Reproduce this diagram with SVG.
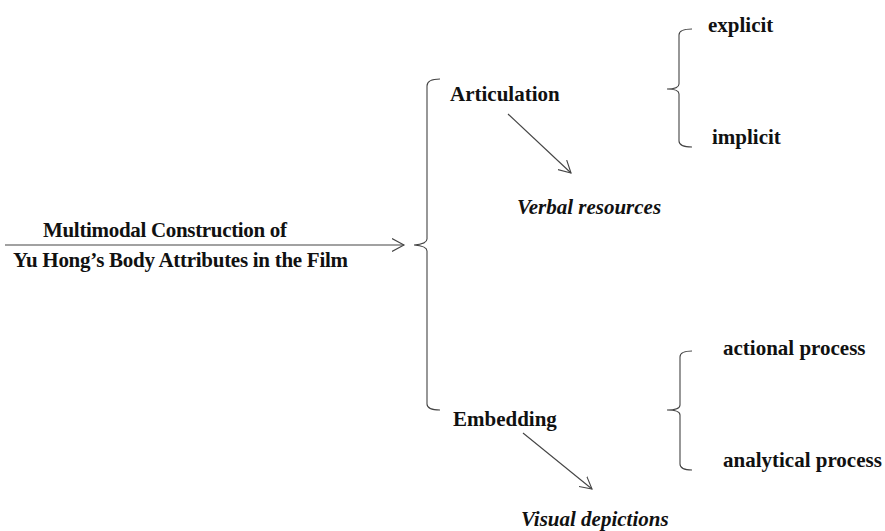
<svg xmlns="http://www.w3.org/2000/svg" width="885" height="531" viewBox="0 0 885 531">
<style>
text{font-family:"Liberation Serif","Times New Roman",serif;font-weight:bold;font-size:21px;fill:#111}
.it{font-style:italic}
.ln{fill:none;stroke:#444;stroke-width:1.1}
</style>
<defs>
<marker id="open" markerWidth="14" markerHeight="14" refX="12" refY="7" orient="auto" markerUnits="userSpaceOnUse">
<path d="M0,0.5 L12,7 L0,13.5" fill="none" stroke="#444" stroke-width="1.1"/>
</marker>
</defs>
<rect width="885" height="531" fill="#fff"/>
<g id="connectors">
<line class="ln" x1="5" y1="245" x2="404" y2="245" marker-end="url(#open)"/>
<line class="ln" x1="508" y1="114" x2="571" y2="173" marker-end="url(#open)"/>
<line class="ln" x1="523" y1="433" x2="592" y2="489" marker-end="url(#open)"/>
<path class="ln" d="M440,79 Q427,79 427,86 L427,239 Q427,244 414,245 Q427,246 427,251 L427,404 Q427,410 440,410"/>
<path class="ln" d="M692,29 Q679,29 679,35 L679,84 Q679,89 667,89 Q679,89 679,94 L679,141 Q679,147 692,147"/>
<path class="ln" d="M692,351 Q680,351 680,357 L680,405 Q680,410 667,410 Q680,410 680,415 L680,464 Q680,470 692,470"/>
</g>
<g id="root">
<text x="43" y="237" textLength="244">Multimodal Construction of</text>
<text x="13" y="267" textLength="335">Yu Hong’s Body Attributes in the Film</text>
</g>
<g id="articulation"><text x="450" y="101">Articulation</text></g>
<g id="verbal"><text class="it" x="517" y="214">Verbal resources</text></g>
<g id="explicit"><text x="708" y="32">explicit</text></g>
<g id="implicit"><text x="712" y="144">implicit</text></g>
<g id="embedding"><text x="453" y="426">Embedding</text></g>
<g id="visual"><text class="it" x="521" y="526">Visual depictions</text></g>
<g id="actional"><text x="723" y="355">actional process</text></g>
<g id="analytical"><text x="723" y="467">analytical process</text></g>
</svg>
